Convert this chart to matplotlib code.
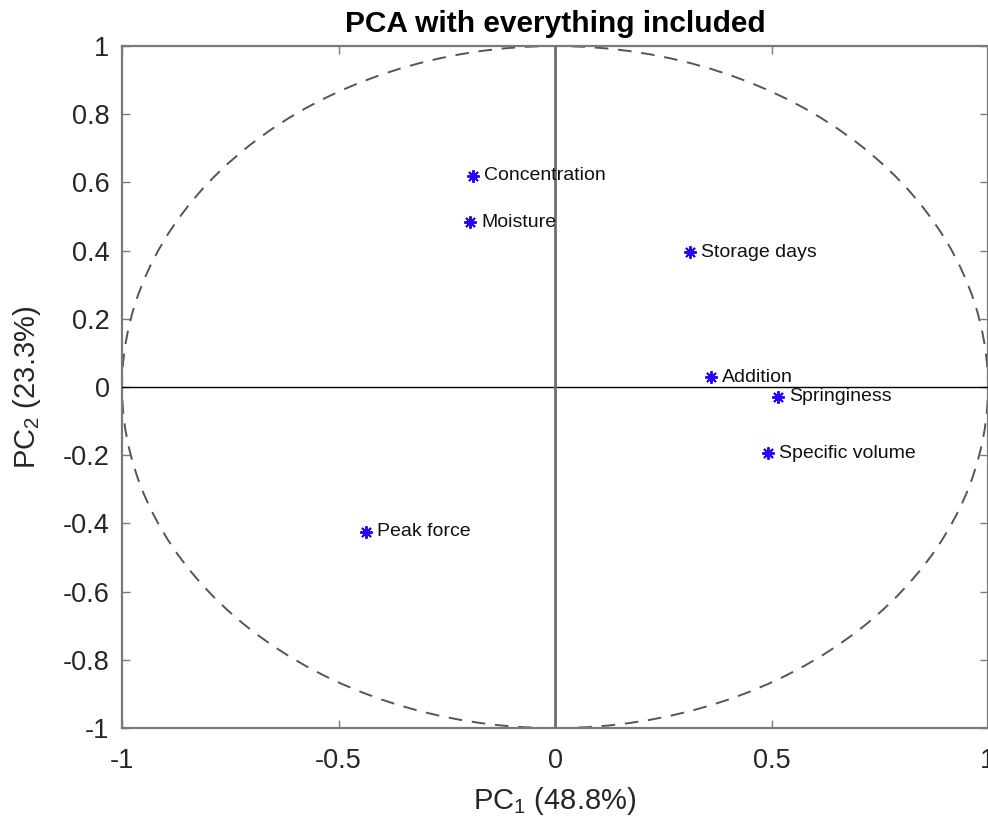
import numpy as np
import matplotlib
matplotlib.use("Agg")
import matplotlib.pyplot as plt
from matplotlib.patches import Ellipse

plt.rcParams['font.family'] = ['Liberation Sans', 'DejaVu Sans']
plt.rcParams['mathtext.fontset'] = 'custom'
plt.rcParams['mathtext.rm'] = 'Liberation Sans'
plt.rcParams['mathtext.it'] = 'Liberation Sans'

# Variable loadings on the first two principal components
variables = ["Concentration", "Moisture", "Storage days", "Addition",
             "Springiness", "Specific volume", "Peak force"]
pc1 = [-0.189, -0.196, 0.312, 0.360, 0.515, 0.492, -0.436]
pc2 = [0.619, 0.484, 0.396, 0.029, -0.029, -0.194, -0.425]

x_ticks = [-1, -0.5, 0, 0.5, 1]
x_tick_labels = ["-1", "-0.5", "0", "0.5", "1"]
y_ticks = [-1, -0.8, -0.6, -0.4, -0.2, 0, 0.2, 0.4, 0.6, 0.8, 1]
y_tick_labels = ["-1", "-0.8", "-0.6", "-0.4", "-0.2", "0", "0.2", "0.4", "0.6", "0.8", "1"]

fig = plt.figure(figsize=(9.88, 8.19), dpi=100)
ax = fig.add_axes([0.1235, 0.111, 0.8765, 0.8328])

spine_col = "#7a7a7a"
ax.set_xlim(-1, 1)
ax.set_ylim(-1, 1)

# unit circle
ax.add_patch(Ellipse((0, 0), 2, 2, fill=False, linestyle=(0, (7, 5)),
                     edgecolor="#555555", linewidth=1.4, zorder=2))

# reference axes through the origin
ax.axhline(0, color="black", linewidth=1.0, zorder=3)
ax.axvline(0, color="#6e6e6e", linewidth=2.0, zorder=3)

ax.plot(pc1, pc2, linestyle="none", marker=(8, 2, 0), markersize=9,
        markeredgewidth=1.4, color="#2a00ff", zorder=5)
for name, x, y in zip(variables, pc1, pc2):
    ax.annotate(name, (x, y), xytext=(8, 0), textcoords="offset points",
                ha="left", va="center", fontsize=14, color="#111111", zorder=6)

ax.set_xticks(x_ticks)
ax.set_xticklabels(x_tick_labels)
ax.set_yticks(y_ticks)
ax.set_yticklabels(y_tick_labels)
ax.tick_params(direction="in", top=True, right=True, length=6, width=1,
               color=spine_col, labelsize=19.5, labelcolor="#262626")
ax.tick_params(axis="x", pad=14)
ax.tick_params(axis="y", pad=9)
for s in ax.spines.values():
    s.set_color(spine_col)
    s.set_linewidth(1.6)

ax.set_xlabel("PC$_1$ (48.8%)", fontsize=21, color="#262626", labelpad=8)
ax.set_ylabel("PC$_2$ (23.3%)", fontsize=21, color="#262626", labelpad=14)
ax.set_title("PCA with everything included", fontsize=21.5, fontweight="bold",
             color="black", pad=10)

fig.savefig("out.png", dpi=100)
